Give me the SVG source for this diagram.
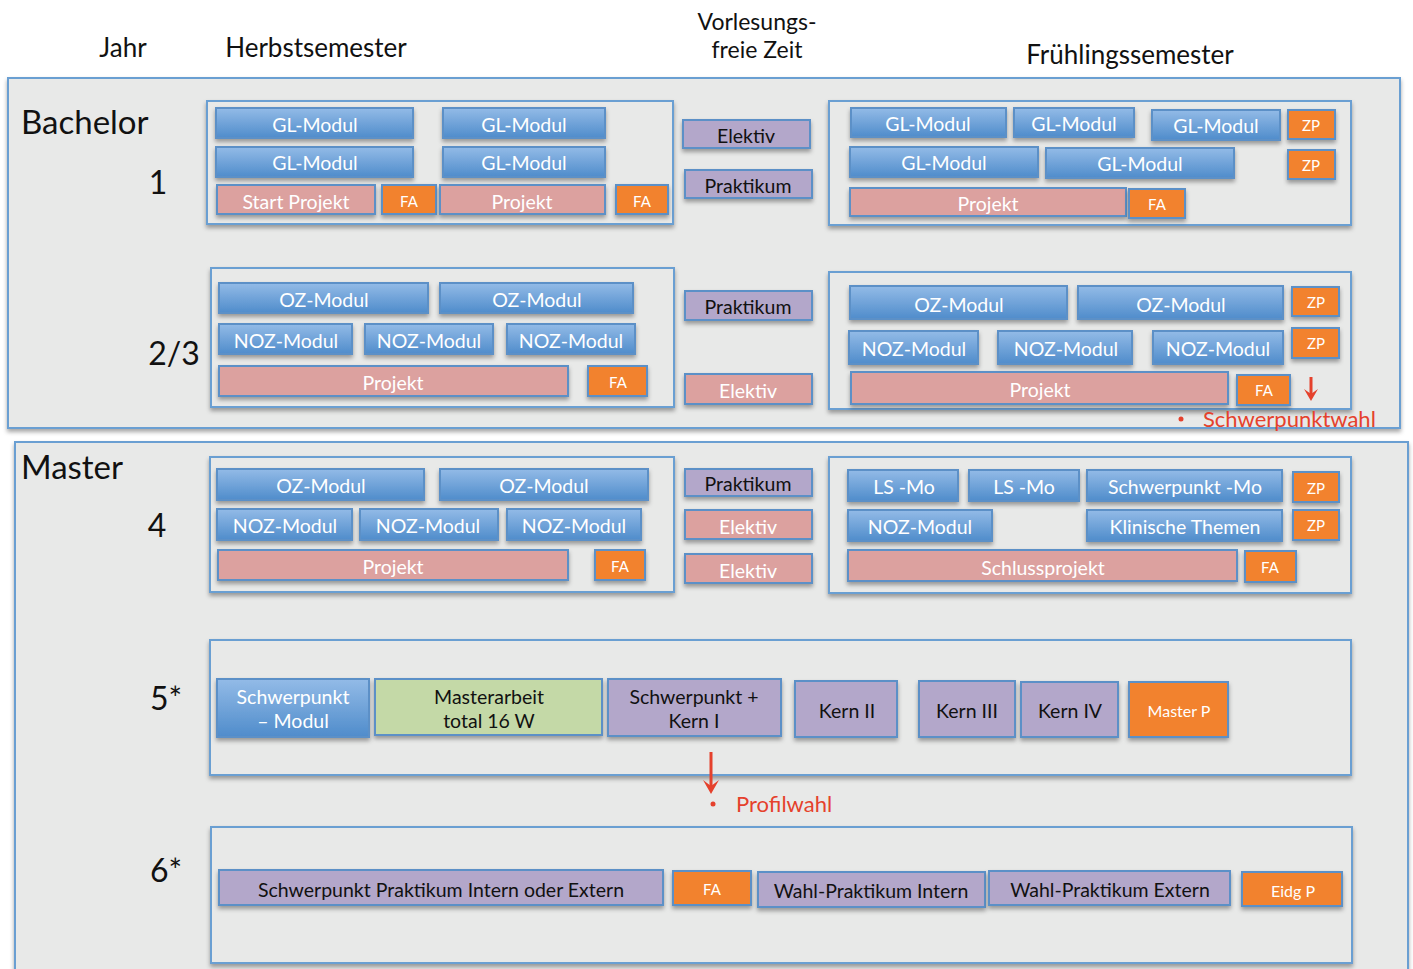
<svg xmlns="http://www.w3.org/2000/svg" width="1413" height="969" viewBox="0 0 1413 969">
<defs>
<linearGradient id="gb" x1="0" y1="0" x2="0" y2="1">
<stop offset="0" stop-color="#93bbe7"/>
<stop offset="1" stop-color="#4f8ccb"/>
</linearGradient>
<filter id="sh" x="-10%" y="-20%" width="120%" height="160%">
<feDropShadow dx="0" dy="3" stdDeviation="2" flood-color="#000" flood-opacity="0.35"/>
</filter>
</defs>
<style>
text{font-family:Lato,"Liberation Sans",sans-serif;}
.hd{font-size:26px;fill:#111;text-anchor:middle;}
.hd2{font-size:23px;fill:#111;text-anchor:middle;}
.big{font-size:33px;fill:#111;}
.yr{font-size:32px;fill:#111;text-anchor:middle;}
.panel{fill:#e8e9e8;stroke:#6a9fd2;stroke-width:2;filter:url(#sh);}
.grp{fill:#e8e9e8;stroke:#6a9fd2;stroke-width:2;filter:url(#sh);}
.b{fill:url(#gb);stroke:#5b90c7;stroke-width:2;filter:url(#sh);}
.p{fill:#dca19f;stroke:#5b90c7;stroke-width:2;filter:url(#sh);}
.o{fill:#f2822f;stroke:#5b90c7;stroke-width:2;filter:url(#sh);}
.v{fill:#b3a7ca;stroke:#5b90c7;stroke-width:2;filter:url(#sh);}
.g{fill:#c4d9a7;stroke:#5b90c7;stroke-width:2;filter:url(#sh);}
.tw{fill:#fff;font-size:19.5px;text-anchor:middle;dominant-baseline:central;}
.tk{fill:#111;font-size:19.5px;text-anchor:middle;dominant-baseline:central;}
.ts{fill:#fff;font-size:15px;text-anchor:middle;dominant-baseline:central;}
.red{fill:#e5412c;font-size:22px;}
.arr{stroke:#e5412c;stroke-width:3;fill:none;}
.ahd{fill:#e5412c;stroke:none;}
</style>
<rect x="0" y="0" width="1413" height="969" fill="#fff"/>

<g id="header">
<text class="hd" x="123" y="57">Jahr</text>
<text class="hd" x="316" y="57">Herbstsemester</text>
<text class="hd2" x="757" y="30">Vorlesungs-</text>
<text class="hd2" x="757" y="58">freie Zeit</text>
<text class="hd" x="1130" y="64">Frühlingssemester</text>
</g>

<g id="bachelor">
<rect class="panel" x="8" y="78" width="1392" height="350"/>
<text class="big" x="21" y="134">Bachelor</text>
<text class="yr" x="158" y="194">1</text>
<text class="yr" x="174" y="365">2/3</text>
</g>

<g id="master">
<rect class="panel" x="15" y="442" width="1393" height="560"/>
<text class="big" x="21" y="479">Master</text>
<text class="yr" x="157" y="537">4</text>
<text class="yr" x="166" y="710">5*</text>
<text class="yr" x="166" y="882">6*</text>
</g>

<g id="y1-herbst">
<rect class="grp" x="207" y="101" width="466" height="123"/>
<g id="y1h-gl1"><rect class="b" x="216" y="108" width="197" height="30"/><text class="tw" x="315" y="124">GL-Modul</text></g>
<g id="y1h-gl2"><rect class="b" x="443" y="108" width="162" height="30"/><text class="tw" x="524" y="124">GL-Modul</text></g>
<g id="y1h-gl3"><rect class="b" x="216" y="147" width="197" height="30"/><text class="tw" x="315" y="162">GL-Modul</text></g>
<g id="y1h-gl4"><rect class="b" x="443" y="147" width="162" height="30"/><text class="tw" x="524" y="162">GL-Modul</text></g>
<g id="y1h-start"><rect class="p" x="217" y="185" width="158" height="29"/><text class="tw" x="296" y="201">Start Projekt</text></g>
<g id="y1h-fa1"><rect class="o" x="382" y="185" width="54" height="29"/><text class="ts" x="409" y="201">FA</text></g>
<g id="y1h-proj"><rect class="p" x="440" y="185" width="165" height="29"/><text class="tw" x="522" y="201">Projekt</text></g>
<g id="y1h-fa2"><rect class="o" x="616" y="185" width="52" height="29"/><text class="ts" x="642" y="201">FA</text></g>
</g>

<g id="y1-frei">
<g id="y1m-elektiv"><rect class="v" x="683" y="120" width="127" height="28"/><text class="tk" x="746" y="135">Elektiv</text></g>
<g id="y1m-praktikum"><rect class="v" x="685" y="170" width="127" height="28"/><text class="tk" x="748" y="185">Praktikum</text></g>
</g>

<g id="y1-fruehling">
<rect class="grp" x="829" y="101" width="522" height="124"/>
<g id="y1f-gl1"><rect class="b" x="851" y="108" width="155" height="29"/><text class="tw" x="928" y="123">GL-Modul</text></g>
<g id="y1f-gl2"><rect class="b" x="1014" y="108" width="120" height="29"/><text class="tw" x="1074" y="123">GL-Modul</text></g>
<g id="y1f-gl3"><rect class="b" x="1152" y="110" width="128" height="30"/><text class="tw" x="1216" y="125">GL-Modul</text></g>
<g id="y1f-zp1"><rect class="o" x="1288" y="110" width="47" height="29"/><text class="ts" x="1311" y="125">ZP</text></g>
<g id="y1f-gl4"><rect class="b" x="850" y="147" width="188" height="30"/><text class="tw" x="944" y="162">GL-Modul</text></g>
<g id="y1f-gl5"><rect class="b" x="1046" y="148" width="188" height="30"/><text class="tw" x="1140" y="163">GL-Modul</text></g>
<g id="y1f-zp2"><rect class="o" x="1288" y="150" width="47" height="29"/><text class="ts" x="1311" y="165">ZP</text></g>
<g id="y1f-proj"><rect class="p" x="850" y="188" width="276" height="28"/><text class="tw" x="988" y="203">Projekt</text></g>
<g id="y1f-fa"><rect class="o" x="1129" y="189" width="56" height="29"/><text class="ts" x="1157" y="204">FA</text></g>
</g>

<g id="y23-herbst">
<rect class="grp" x="211" y="268" width="463" height="139"/>
<g id="y23h-oz1"><rect class="b" x="219" y="283" width="209" height="30"/><text class="tw" x="324" y="299">OZ-Modul</text></g>
<g id="y23h-oz2"><rect class="b" x="440" y="283" width="193" height="30"/><text class="tw" x="537" y="299">OZ-Modul</text></g>
<g id="y23h-noz1"><rect class="b" x="219" y="324" width="133" height="30"/><text class="tw" x="286" y="340">NOZ-Modul</text></g>
<g id="y23h-noz2"><rect class="b" x="365" y="324" width="128" height="30"/><text class="tw" x="429" y="340">NOZ-Modul</text></g>
<g id="y23h-noz3"><rect class="b" x="507" y="324" width="128" height="30"/><text class="tw" x="571" y="340">NOZ-Modul</text></g>
<g id="y23h-proj"><rect class="p" x="219" y="366" width="349" height="30"/><text class="tw" x="393" y="382">Projekt</text></g>
<g id="y23h-fa"><rect class="o" x="588" y="366" width="59" height="30"/><text class="ts" x="618" y="382">FA</text></g>
</g>

<g id="y23-frei">
<g id="y23m-praktikum"><rect class="v" x="685" y="291" width="127" height="29"/><text class="tk" x="748" y="306">Praktikum</text></g>
<g id="y23m-elektiv"><rect class="p" x="685" y="374" width="127" height="30"/><text class="tw" x="748" y="390">Elektiv</text></g>
</g>

<g id="y23-fruehling">
<rect class="grp" x="829" y="272" width="522" height="137"/>
<g id="y23f-oz1"><rect class="b" x="850" y="286" width="217" height="33"/><text class="tw" x="959" y="304">OZ-Modul</text></g>
<g id="y23f-oz2"><rect class="b" x="1078" y="286" width="205" height="33"/><text class="tw" x="1181" y="304">OZ-Modul</text></g>
<g id="y23f-zp1"><rect class="o" x="1292" y="287" width="47" height="29"/><text class="ts" x="1316" y="302">ZP</text></g>
<g id="y23f-noz1"><rect class="b" x="849" y="331" width="129" height="33"/><text class="tw" x="914" y="348">NOZ-Modul</text></g>
<g id="y23f-noz2"><rect class="b" x="998" y="331" width="134" height="33"/><text class="tw" x="1066" y="348">NOZ-Modul</text></g>
<g id="y23f-noz3"><rect class="b" x="1153" y="331" width="130" height="33"/><text class="tw" x="1218" y="348">NOZ-Modul</text></g>
<g id="y23f-zp2"><rect class="o" x="1292" y="328" width="47" height="30"/><text class="ts" x="1316" y="343">ZP</text></g>
<g id="y23f-proj"><rect class="p" x="851" y="372" width="377" height="32"/><text class="tw" x="1040" y="389">Projekt</text></g>
<g id="y23f-fa"><rect class="o" x="1237" y="375" width="53" height="30"/><text class="ts" x="1264" y="390">FA</text></g>
</g>

<g id="y4-herbst">
<rect class="grp" x="210" y="457" width="464" height="135"/>
<g id="y4h-oz1"><rect class="b" x="217" y="469" width="207" height="31"/><text class="tw" x="321" y="485">OZ-Modul</text></g>
<g id="y4h-oz2"><rect class="b" x="440" y="469" width="208" height="31"/><text class="tw" x="544" y="485">OZ-Modul</text></g>
<g id="y4h-noz1"><rect class="b" x="217" y="509" width="135" height="31"/><text class="tw" x="285" y="525">NOZ-Modul</text></g>
<g id="y4h-noz2"><rect class="b" x="360" y="509" width="138" height="31"/><text class="tw" x="428" y="525">NOZ-Modul</text></g>
<g id="y4h-noz3"><rect class="b" x="507" y="509" width="134" height="31"/><text class="tw" x="574" y="525">NOZ-Modul</text></g>
<g id="y4h-proj"><rect class="p" x="218" y="550" width="350" height="30"/><text class="tw" x="393" y="566">Projekt</text></g>
<g id="y4h-fa"><rect class="o" x="595" y="550" width="50" height="30"/><text class="ts" x="620" y="566">FA</text></g>
</g>

<g id="y4-frei">
<g id="y4m-praktikum"><rect class="v" x="685" y="469" width="127" height="27"/><text class="tk" x="748" y="483">Praktikum</text></g>
<g id="y4m-elektiv1"><rect class="p" x="685" y="510" width="127" height="29"/><text class="tw" x="748" y="526">Elektiv</text></g>
<g id="y4m-elektiv2"><rect class="p" x="685" y="554" width="127" height="29"/><text class="tw" x="748" y="570">Elektiv</text></g>
</g>

<g id="y4-fruehling">
<rect class="grp" x="829" y="457" width="522" height="136"/>
<g id="y4f-ls1"><rect class="b" x="848" y="470" width="110" height="31"/><text class="tw" x="904" y="486">LS -Mo</text></g>
<g id="y4f-ls2"><rect class="b" x="969" y="470" width="110" height="31"/><text class="tw" x="1024" y="486">LS -Mo</text></g>
<g id="y4f-sp"><rect class="b" x="1087" y="470" width="195" height="31"/><text class="tw" x="1185" y="486">Schwerpunkt -Mo</text></g>
<g id="y4f-zp1"><rect class="o" x="1293" y="472" width="46" height="30"/><text class="ts" x="1316" y="488">ZP</text></g>
<g id="y4f-noz"><rect class="b" x="848" y="510" width="144" height="31"/><text class="tw" x="920" y="526">NOZ-Modul</text></g>
<g id="y4f-klin"><rect class="b" x="1087" y="510" width="195" height="31"/><text class="tw" x="1185" y="526">Klinische Themen</text></g>
<g id="y4f-zp2"><rect class="o" x="1293" y="510" width="46" height="30"/><text class="ts" x="1316" y="525">ZP</text></g>
<g id="y4f-schluss"><rect class="p" x="848" y="550" width="389" height="31"/><text class="tw" x="1043" y="567">Schlussprojekt</text></g>
<g id="y4f-fa"><rect class="o" x="1245" y="551" width="51" height="31"/><text class="ts" x="1270" y="567">FA</text></g>
</g>

<g id="y5">
<rect class="grp" x="210" y="640" width="1141" height="135"/>
<g id="y5-spmod"><rect class="b" x="217" y="679" width="152" height="58"/><text class="tw" x="293" y="696">Schwerpunkt</text><text class="tw" x="293" y="720">– Modul</text></g>
<g id="y5-ma"><rect class="g" x="375" y="679" width="227" height="56"/><text class="tk" x="489" y="696">Masterarbeit</text><text class="tk" x="489" y="720">total 16 W</text></g>
<g id="y5-spkern"><rect class="v" x="608" y="679" width="173" height="57"/><text class="tk" x="694" y="696">Schwerpunkt +</text><text class="tk" x="694" y="720">Kern I</text></g>
<g id="y5-k2"><rect class="v" x="795" y="681" width="102" height="56"/><text class="tk" x="847" y="710">Kern II</text></g>
<g id="y5-k3"><rect class="v" x="919" y="681" width="96" height="56"/><text class="tk" x="967" y="710">Kern III</text></g>
<g id="y5-k4"><rect class="v" x="1021" y="682" width="97" height="55"/><text class="tk" x="1070" y="710">Kern IV</text></g>
<g id="y5-mp"><rect class="o" x="1129" y="682" width="99" height="55"/><text class="ts" x="1179" y="710" style="font-size:16px">Master P</text></g>
</g>

<g id="y6">
<rect class="grp" x="211" y="827" width="1141" height="136"/>
<g id="y6-sp"><rect class="v" x="219" y="870" width="444" height="35"/><text class="tk" x="441" y="889">Schwerpunkt Praktikum Intern oder Extern</text></g>
<g id="y6-fa"><rect class="o" x="673" y="871" width="78" height="34"/><text class="ts" x="712" y="889">FA</text></g>
<g id="y6-wi"><rect class="v" x="758" y="872" width="227" height="35"/><text class="tk" x="871" y="890">Wahl-Praktikum Intern</text></g>
<g id="y6-we"><rect class="v" x="989" y="871" width="241" height="34"/><text class="tk" x="1110" y="889">Wahl-Praktikum Extern</text></g>
<g id="y6-eidg"><rect class="o" x="1242" y="872" width="100" height="34"/><text class="ts" x="1293" y="890" style="font-size:16px">Eidg P</text></g>
</g>

<g id="connectors">
<line class="arr" x1="1311" y1="377" x2="1311" y2="394"/>
<path class="ahd" d="M1304,389 L1311,401 L1318,389 L1311,394 Z"/>
<line class="arr" x1="711" y1="752" x2="711" y2="786"/>
<path class="ahd" d="M703,780 L711,794 L719,780 L711,786 Z"/>
</g>

<g id="notes">
<circle cx="1181" cy="419" r="2.5" fill="#e5412c"/>
<text class="red" x="1203" y="427">Schwerpunktwahl</text>
<circle cx="713" cy="804" r="2.5" fill="#e5412c"/>
<text class="red" x="736" y="812">Profilwahl</text>
</g>
</svg>
